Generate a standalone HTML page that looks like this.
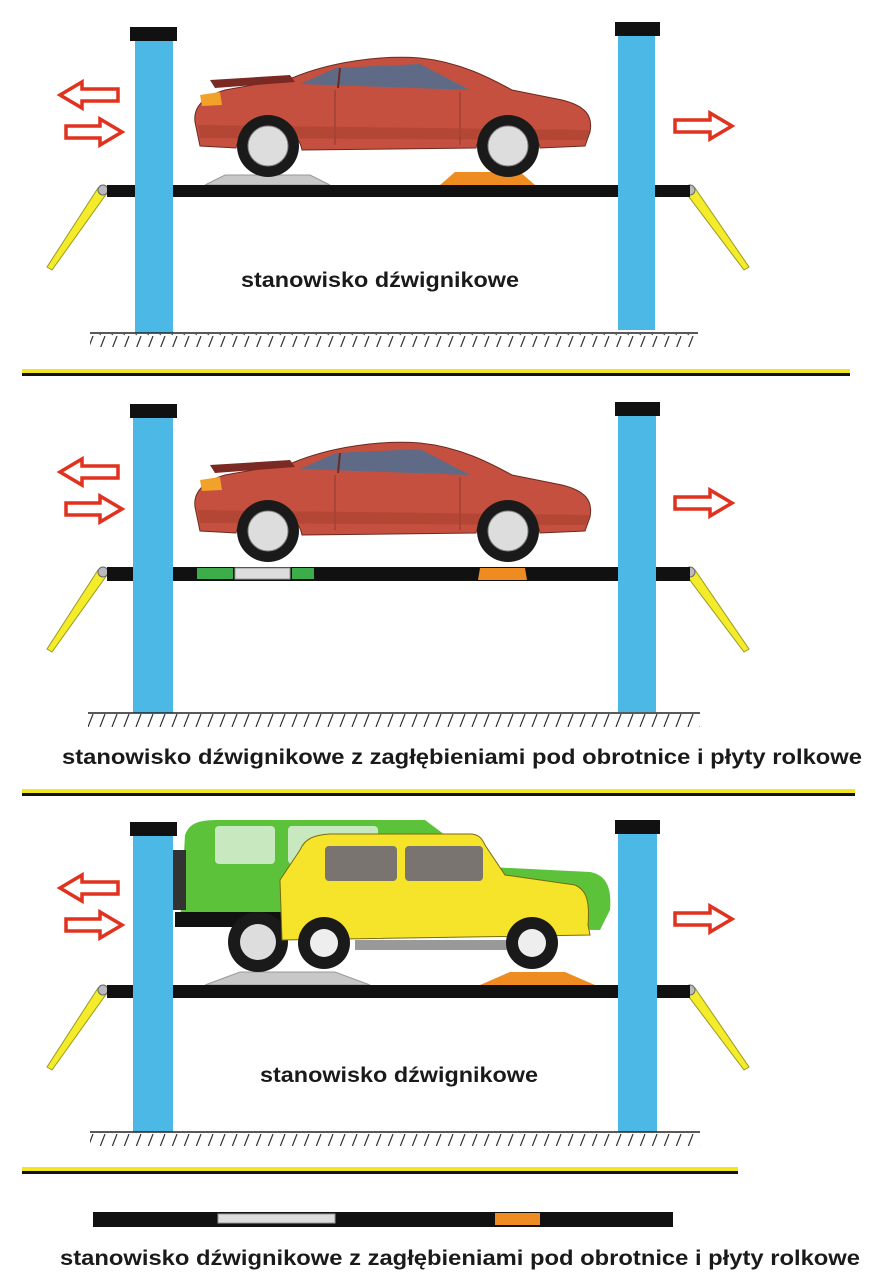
<!DOCTYPE html>
<html><head><meta charset="utf-8"><style>
html,body{margin:0;padding:0;background:#fff;}
svg{display:block;}
text{font-family:"Liberation Sans",sans-serif;font-weight:bold;fill:#1a1a1a;}
</style></head><body>
<svg width="872" height="1286" viewBox="0 0 872 1286" xmlns="http://www.w3.org/2000/svg">
<defs>
<pattern id="hatch" width="12" height="14" patternUnits="userSpaceOnUse">
<line x1="9" y1="0" x2="4" y2="13" stroke="#333" stroke-width="1.2"/>
</pattern>
<g id="redcar">
<path d="M195,122 C193,106 205,96 225,90 L292,78 C330,62 380,55 420,58 C460,62 490,78 512,90 L562,100 C586,106 593,116 590,132 L585,146 L540,148 C535,118 482,118 476,148 L302,150 C296,118 242,118 236,148 L200,146 Z" fill="#c5503f" stroke="#6b2a20" stroke-width="1"/>
<path d="M210,80 L290,75 L295,82 L215,88 Z" fill="#7a2a22"/>
<path d="M300,84 L336,68 L420,64 L470,90 Z" fill="#5f6b86"/>
<line x1="340" y1="68" x2="338" y2="88" stroke="#6b2a20" stroke-width="2"/>
<line x1="335" y1="90" x2="335" y2="145" stroke="#8b3a30" stroke-width="1"/>
<line x1="460" y1="92" x2="460" y2="145" stroke="#8b3a30" stroke-width="1"/>
<path d="M200,95 L220,92 L222,105 L202,106 Z" fill="#f2a12a"/>
<path d="M198,125 L590,130 L586,140 L200,138 Z" fill="#a8402f" opacity="0.6"/>
<circle cx="268" cy="146" r="31" fill="#1a1a1a"/><circle cx="268" cy="146" r="20" fill="#ddd" stroke="#888"/>
<circle cx="508" cy="146" r="31" fill="#1a1a1a"/><circle cx="508" cy="146" r="20" fill="#ddd" stroke="#888"/>
</g>
<g id="larr"><polygon points="60,95 82,82 82,89 118,89 118,101 82,101 82,108" fill="#fff" stroke="#e0321e" stroke-width="3.5" stroke-linejoin="miter"/></g>
<g id="rarr"><polygon points="122,132 100,119 100,126 66,126 66,138 100,138 100,145" fill="#fff" stroke="#e0321e" stroke-width="3.5"/></g>
<g id="rarr2"><polygon points="732,126 710,113 710,120 675,120 675,132 710,132 710,139" fill="#fff" stroke="#e0321e" stroke-width="3.5"/></g>
<g id="levers">
<polygon points="98,188 107,193 52,270 47,267" fill="#f4ec2a" stroke="#9a9a20" stroke-width="1"/>
<circle cx="103" cy="190" r="5" fill="#bbb" stroke="#666"/>
<polygon points="686,193 695,188 749,267 744,270" fill="#f4ec2a" stroke="#9a9a20" stroke-width="1"/>
<circle cx="690" cy="190" r="5" fill="#bbb" stroke="#666"/>
</g>
</defs>

<!-- PANEL 1 -->
<use href="#larr"/><use href="#rarr"/><use href="#rarr2"/>
<use href="#levers"/>
<path d="M205,185 L225,175 L310,175 L330,185 Z" fill="#c8c8c8" stroke="#999"/>
<path d="M440,185 L455,172 L520,172 L535,185 Z" fill="#ee8c22"/>
<rect x="107" y="185" width="583" height="12" fill="#111"/>
<use href="#redcar"/>
<rect x="135" y="40" width="38" height="293" fill="#4bb8e6"/>
<rect x="130" y="27" width="47" height="14" fill="#111"/>
<rect x="618" y="36" width="37" height="294" fill="#4bb8e6"/>
<rect x="615" y="22" width="45" height="14" fill="#111"/>
<line x1="90" y1="333" x2="698" y2="333" stroke="#222" stroke-width="1.5"/>
<rect x="90" y="334" width="608" height="13" fill="url(#hatch)"/>
<text x="380" y="287" font-size="21" text-anchor="middle" textLength="278" lengthAdjust="spacingAndGlyphs">stanowisko dźwignikowe</text>
<rect x="22" y="369" width="828" height="4" fill="#f2e61e"/><rect x="22" y="373" width="828" height="3" fill="#111"/>

<!-- PANEL 2 -->
<g transform="translate(0,377)"><use href="#larr"/><use href="#rarr"/><use href="#rarr2"/></g>
<g transform="translate(0,382)"><use href="#levers"/></g>
<rect x="107" y="567" width="583" height="14" fill="#111"/>
<rect x="197" y="568" width="36" height="11" fill="#3cad4a"/>
<rect x="235" y="568" width="55" height="11" fill="#ddd" stroke="#999"/>
<rect x="292" y="568" width="22" height="11" fill="#3cad4a"/>
<path d="M478,580 L480,568 L525,568 L527,580 Z" fill="#ee8c22"/>
<g transform="translate(0,385)"><use href="#redcar"/></g>
<rect x="133" y="418" width="40" height="295" fill="#4bb8e6"/>
<rect x="130" y="404" width="47" height="14" fill="#111"/>
<rect x="618" y="416" width="38" height="296" fill="#4bb8e6"/>
<rect x="615" y="402" width="45" height="14" fill="#111"/>
<line x1="88" y1="713" x2="700" y2="713" stroke="#222" stroke-width="1.5"/>
<rect x="88" y="714" width="612" height="13" fill="url(#hatch)"/>
<text x="62" y="764" font-size="21" textLength="800" lengthAdjust="spacingAndGlyphs">stanowisko dźwignikowe z zagłębieniami pod obrotnice i płyty rolkowe</text>
<rect x="22" y="789" width="833" height="4" fill="#f2e61e"/><rect x="22" y="793" width="833" height="3" fill="#111"/>

<!-- PANEL 3 -->
<g transform="translate(0,793)"><use href="#larr"/><use href="#rarr"/><use href="#rarr2"/></g>
<g transform="translate(0,800)"><use href="#levers"/></g>
<path d="M205,985 L240,972 L335,972 L370,985 Z" fill="#c8c8c8" stroke="#999"/>
<path d="M480,985 L510,972 L565,972 L595,985 Z" fill="#ee8c22"/>
<rect x="107" y="985" width="583" height="13" fill="#111"/>
<path d="M185,835 C190,822 200,820 220,820 L425,820 L445,835 L450,865 L590,872 C605,875 612,885 610,910 L600,930 L180,925 Z" fill="#5cc23a"/>
<rect x="215" y="826" width="60" height="38" rx="4" fill="#c8e8c0"/>
<rect x="288" y="826" width="90" height="38" rx="4" fill="#c8e8c0"/>
<rect x="172" y="850" width="14" height="60" fill="#333"/>
<rect x="175" y="912" width="120" height="15" fill="#111"/>
<circle cx="258" cy="942" r="30" fill="#1a1a1a"/><circle cx="258" cy="942" r="18" fill="#ddd"/>
<path d="M280,880 L300,850 C305,838 315,835 330,834 L470,834 C478,834 482,838 485,845 L505,875 L575,885 C586,890 590,900 588,925 L590,935 L282,940 Z" fill="#f5e42a" stroke="#7a6a10" stroke-width="1"/>
<rect x="325" y="846" width="72" height="35" rx="4" fill="#7a7470"/>
<rect x="405" y="846" width="78" height="35" rx="4" fill="#7a7470"/>
<rect x="355" y="940" width="200" height="10" fill="#999"/>
<circle cx="324" cy="943" r="26" fill="#1a1a1a"/><circle cx="324" cy="943" r="14" fill="#eee"/>
<circle cx="532" cy="943" r="26" fill="#1a1a1a"/><circle cx="532" cy="943" r="14" fill="#eee"/>
<rect x="133" y="836" width="40" height="296" fill="#4bb8e6"/>
<rect x="130" y="822" width="47" height="14" fill="#111"/>
<rect x="618" y="834" width="39" height="298" fill="#4bb8e6"/>
<rect x="615" y="820" width="45" height="14" fill="#111"/>
<line x1="90" y1="1132" x2="700" y2="1132" stroke="#222" stroke-width="1.5"/>
<rect x="90" y="1133" width="610" height="13" fill="url(#hatch)"/>
<text x="399" y="1082" font-size="21" text-anchor="middle" textLength="278" lengthAdjust="spacingAndGlyphs">stanowisko dźwignikowe</text>
<rect x="22" y="1167" width="716" height="4" fill="#f2e61e"/><rect x="22" y="1171" width="716" height="3" fill="#111"/>

<rect x="93" y="1212" width="580" height="15" fill="#111"/>
<rect x="218" y="1214" width="117" height="9" fill="#ddd" stroke="#999"/>
<rect x="495" y="1213" width="45" height="12" fill="#ee8c22"/>
<text x="60" y="1265" font-size="21" textLength="800" lengthAdjust="spacingAndGlyphs">stanowisko dźwignikowe z zagłębieniami pod obrotnice i płyty rolkowe</text>
</svg>
</body></html>
